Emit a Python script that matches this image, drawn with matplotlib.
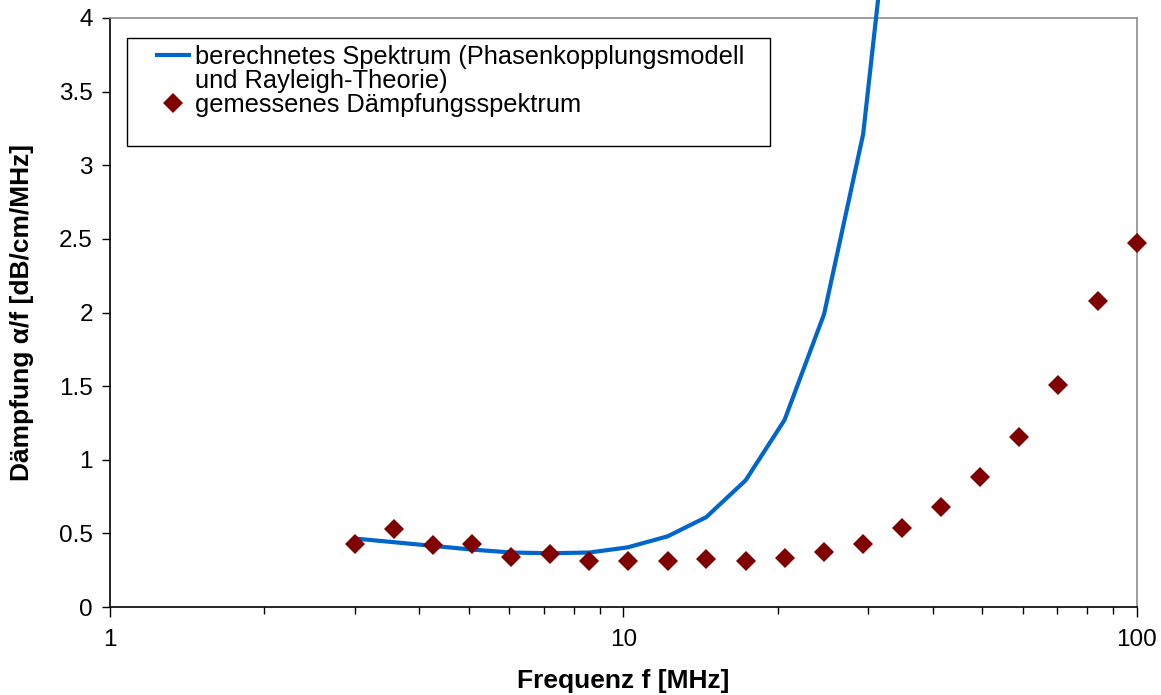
import matplotlib
matplotlib.use("Agg")
import matplotlib.pyplot as plt
from matplotlib.lines import Line2D
from matplotlib.patches import Rectangle
from matplotlib.ticker import FixedLocator, LogLocator, NullFormatter, FuncFormatter

plt.rcParams['font.family'] = ['Liberation Sans', 'DejaVu Sans']

# Frequencies [MHz] (log-spaced measurement grid)
freq = [3.0, 3.58, 4.26, 5.08, 6.05, 7.21, 8.59, 10.2, 12.2, 14.5, 17.3,
        20.6, 24.6, 29.3, 34.9, 41.6, 49.5, 59.0, 70.3, 83.8, 99.8]

# Measured attenuation spectrum alpha/f [dB/cm/MHz]
measured = [0.43, 0.53, 0.42, 0.43, 0.34, 0.36, 0.315, 0.31, 0.315, 0.325, 0.315,
            0.335, 0.375, 0.43, 0.535, 0.68, 0.885, 1.155, 1.51, 2.08, 2.47]

# Calculated spectrum (phase coupling model + Rayleigh theory)
calc_freq = freq[:15]
calculated = [0.465, 0.44, 0.415, 0.39, 0.37, 0.365, 0.37, 0.405, 0.48, 0.61,
              0.86, 1.27, 1.99, 3.21, 5.6]

y_ticks = [0, 0.5, 1, 1.5, 2, 2.5, 3, 3.5, 4]
x_ticks = [1, 10, 100]

W, H = 1161, 695
fig = plt.figure(figsize=(W / 100, H / 100), dpi=100)
ax = fig.add_axes([109.6 / W, 1 - 607 / H, (1137 - 109.6) / W, (607 - 18) / H])

line, = ax.plot(calc_freq, calculated, color='#0066CC', lw=3, solid_joinstyle='miter',
                clip_on=False, zorder=3)
pts, = ax.plot(freq, measured, linestyle='none', marker='D', markersize=10,
               color='#800000', markeredgewidth=0, clip_on=False, zorder=4)

ax.set_xscale('log')
ax.set_xlim(1, 100)
ax.set_ylim(0, 4)
ax.xaxis.set_major_locator(FixedLocator(x_ticks))
ax.xaxis.set_minor_locator(LogLocator(base=10, subs=range(2, 10)))
ax.xaxis.set_minor_formatter(NullFormatter())
ax.xaxis.set_major_formatter(FuncFormatter(lambda v, p: f"{v:g}"))
ax.yaxis.set_major_locator(FixedLocator(y_ticks))
ax.yaxis.set_major_formatter(FuncFormatter(lambda v, p: f"{v:g}"))

ax.tick_params(axis='x', which='major', direction='out', length=7, width=1,
               pad=9, labelsize=17.5, color='#000000')
ax.tick_params(axis='x', which='minor', direction='out', length=5, width=1, color='#000000')
ax.tick_params(axis='y', which='major', direction='out', length=6, width=1,
               pad=6, labelsize=17.5, color='#000000')

for s in ('left', 'bottom'):
    ax.spines[s].set_color('#000000')
    ax.spines[s].set_linewidth(1.2)
for s in ('top', 'right'):
    ax.spines[s].set_color('#8c8c8c')
    ax.spines[s].set_linewidth(1.2)

ax.set_xlabel('Frequenz f [MHz]', fontsize=19, fontweight='bold')
ax.set_ylabel('Dämpfung α/f [dB/cm/MHz]', fontsize=19, fontweight='bold')
ax.xaxis.set_label_coords(0.5, (607 - 681) / 589)
ax.xaxis.label.set_va('center')
ax.yaxis.set_label_coords((22 - 109.6) / 1027.4, 0.5)
ax.yaxis.label.set_va('center')

# Legend frame
fig.patches.append(Rectangle((127 / W, 1 - 146 / H), (770 - 127) / W, (146 - 38) / H,
                             transform=fig.transFigure, fill=True, facecolor='white',
                             edgecolor='#000000', linewidth=1, zorder=5))

blank = Line2D([], [], linestyle='none')
leg = fig.legend([line, blank, pts],
                 ['berechnetes Spektrum (Phasenkopplungsmodell',
                  'und Rayleigh-Theorie)',
                  'gemessenes Dämpfungsspektrum'],
                 loc='upper left', bbox_to_anchor=(157 / W, 1 - 45 / H),
                 frameon=False, fontsize=18.3, borderpad=0, borderaxespad=0,
                 handlelength=1.24, handletextpad=0.24, labelspacing=0.0,
                 numpoints=1)
leg.set_zorder(6)

fig.savefig('out.png', dpi=100)
